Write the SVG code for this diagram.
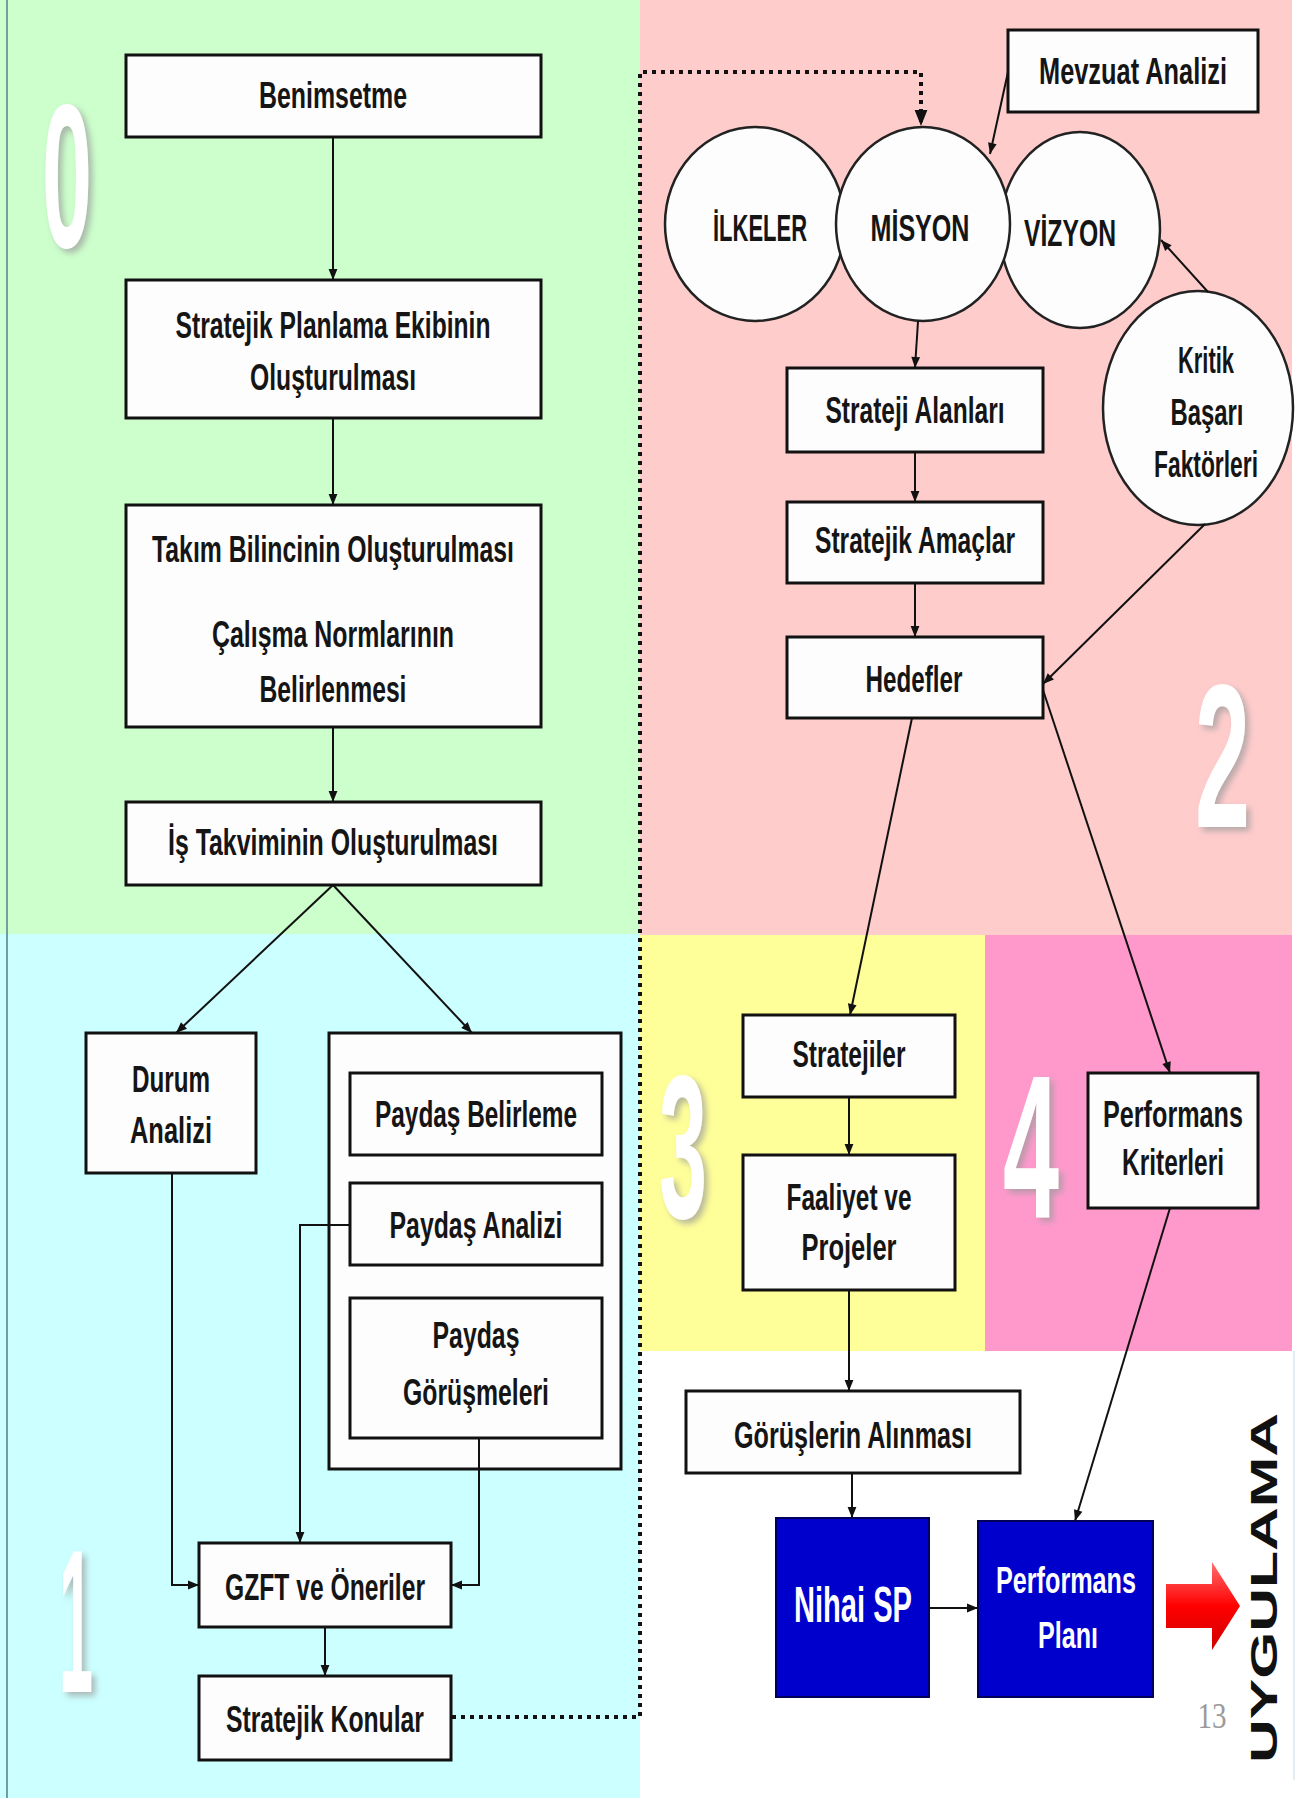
<svg xmlns="http://www.w3.org/2000/svg" width="1306" height="1798" viewBox="0 0 1306 1798">
<defs>
<style>
.box{fill:#fdfdfd;stroke:#111;stroke-width:3}
.circ{fill:#fdfdfd;stroke:#222;stroke-width:2.5}
.blue{fill:#0000cc;stroke:#00005a;stroke-width:2}
.t{font-family:"Liberation Sans Narrow","Liberation Sans",Arial,sans-serif;font-weight:bold;font-size:37px;fill:#151515;text-anchor:middle}
.tw{font-family:"Liberation Sans Narrow","Liberation Sans",Arial,sans-serif;font-weight:bold;fill:#ffffff;text-anchor:middle}
.big{font-family:"Liberation Sans",Arial,sans-serif;font-weight:bold;font-size:205px;fill:#ffffff;filter:url(#shadow)}
.ln{fill:none;stroke:#111;stroke-width:2;marker-end:url(#ah)}
.dot{fill:none;stroke:#111;stroke-width:4;stroke-dasharray:4 5;marker-end:url(#ahb)}
</style>
<filter id="shadow" x="-30%" y="-10%" width="160%" height="130%">
<feDropShadow dx="4" dy="4" stdDeviation="3" flood-color="#9a9a9a" flood-opacity="0.7"/>
</filter>
<marker id="ah" viewBox="0 0 10 10" refX="10" refY="5" markerWidth="12" markerHeight="11" markerUnits="userSpaceOnUse" orient="auto"><path d="M0,1 L10,5 L0,9 z" fill="#111"/></marker>
<marker id="ahb" viewBox="0 0 10 10" refX="10" refY="5" markerWidth="24" markerHeight="16" markerUnits="userSpaceOnUse" orient="auto"><path d="M0,1 L10,5 L0,9 z" fill="#111"/></marker>
<linearGradient id="red" x1="0" y1="0" x2="0" y2="1"><stop offset="0" stop-color="#ff7070"/><stop offset="0.5" stop-color="#ff0000"/><stop offset="1" stop-color="#d00000"/></linearGradient>
</defs>

<g id="background">
<rect x="0" y="0" width="1306" height="1798" fill="#ffffff"/>
<rect x="0" y="0" width="640" height="934" fill="#ccffcc"/>
<rect x="640" y="0" width="652" height="935" fill="#ffcccc"/>
<rect x="0" y="934" width="640" height="864" fill="#ccffff"/>
<rect x="640" y="935" width="345" height="416" fill="#ffff99"/>
<rect x="985" y="935" width="307" height="416" fill="#ff99cc"/>
<line x1="7" y1="0" x2="7" y2="1798" stroke="#6f9f9f" stroke-width="2"/>
<line x1="1294" y1="1351" x2="1294" y2="1780" stroke="#e4eef2" stroke-width="2"/>
</g>

<g id="section-numbers">
<text class="big" x="42" y="247" textLength="50" lengthAdjust="spacingAndGlyphs">0</text>
<text class="big" x="59" y="1692" textLength="34" lengthAdjust="spacingAndGlyphs">1</text>
<text class="big" x="1195" y="827" textLength="55" lengthAdjust="spacingAndGlyphs">2</text>
<text class="big" x="659" y="1218" textLength="48" lengthAdjust="spacingAndGlyphs">3</text>
<text class="big" x="1003" y="1218" textLength="56" lengthAdjust="spacingAndGlyphs">4</text>
</g>

<g id="n-benimsetme"><rect class="box" x="126" y="55" width="415" height="82"/><text class="t" x="333" y="108" textLength="148" lengthAdjust="spacingAndGlyphs">Benimsetme</text></g>
<g id="n-ekip"><rect class="box" x="126" y="280" width="415" height="138"/><text class="t" x="333" y="338" textLength="315" lengthAdjust="spacingAndGlyphs">Stratejik Planlama Ekibinin</text><text class="t" x="333" y="390" textLength="166" lengthAdjust="spacingAndGlyphs">Oluşturulması</text></g>
<g id="n-takim"><rect class="box" x="126" y="505" width="415" height="222"/><text class="t" x="333" y="562" textLength="362" lengthAdjust="spacingAndGlyphs">Takım Bilincinin Oluşturulması</text><text class="t" x="333" y="647" textLength="242" lengthAdjust="spacingAndGlyphs">Çalışma Normlarının</text><text class="t" x="333" y="702" textLength="147" lengthAdjust="spacingAndGlyphs">Belirlenmesi</text></g>
<g id="n-takvim"><rect class="box" x="126" y="802" width="415" height="83"/><text class="t" x="333" y="855" textLength="330" lengthAdjust="spacingAndGlyphs">İş Takviminin Oluşturulması</text></g>
<g id="n-durum"><rect class="box" x="86" y="1033" width="170" height="140"/><text class="t" x="171" y="1092" font-size="35" textLength="78" lengthAdjust="spacingAndGlyphs">Durum</text><text class="t" x="171" y="1143" font-size="35" textLength="82" lengthAdjust="spacingAndGlyphs">Analizi</text></g>
<g id="n-paydas"><rect class="box" x="329" y="1033" width="292" height="436" stroke-width="2.5"/></g>
<g id="n-paydas-belirleme"><rect class="box" x="350" y="1073" width="252" height="82"/><text class="t" x="476" y="1127" textLength="202" lengthAdjust="spacingAndGlyphs">Paydaş Belirleme</text></g>
<g id="n-paydas-analizi"><rect class="box" x="350" y="1183" width="252" height="82"/><text class="t" x="476" y="1238" textLength="173" lengthAdjust="spacingAndGlyphs">Paydaş Analizi</text></g>
<g id="n-paydas-gorusme"><rect class="box" x="350" y="1298" width="252" height="140"/><text class="t" x="476" y="1348" textLength="87" lengthAdjust="spacingAndGlyphs">Paydaş</text><text class="t" x="476" y="1405" textLength="146" lengthAdjust="spacingAndGlyphs">Görüşmeleri</text></g>
<g id="n-gzft"><rect class="box" x="199" y="1543" width="252" height="84"/><text class="t" x="325" y="1600" font-size="35" textLength="200" lengthAdjust="spacingAndGlyphs">GZFT ve Öneriler</text></g>
<g id="n-konular"><rect class="box" x="199" y="1676" width="252" height="84"/><text class="t" x="325" y="1732" font-size="35" textLength="198" lengthAdjust="spacingAndGlyphs">Stratejik Konular</text></g>

<g id="n-mevzuat"><rect class="box" x="1008" y="30" width="250" height="82"/><text class="t" x="1133" y="84" font-size="36" textLength="188" lengthAdjust="spacingAndGlyphs">Mevzuat Analizi</text></g>
<g id="n-ilkeler"><ellipse class="circ" cx="755" cy="224" rx="90" ry="97"/><text class="t" x="760" y="241" font-size="36" textLength="94" lengthAdjust="spacingAndGlyphs">İLKELER</text></g>
<g id="n-vizyon"><ellipse class="circ" cx="1080" cy="230" rx="80" ry="98"/><text class="t" x="1070" y="246" font-size="36" textLength="92" lengthAdjust="spacingAndGlyphs">VİZYON</text></g>
<g id="n-misyon"><ellipse class="circ" cx="923" cy="224" rx="87" ry="97"/><text class="t" x="920" y="241" font-size="36" textLength="99" lengthAdjust="spacingAndGlyphs">MİSYON</text></g>
<g id="n-kritik"><ellipse class="circ" cx="1198" cy="408" rx="95" ry="117"/><text class="t" x="1206" y="373" font-size="33" textLength="56" lengthAdjust="spacingAndGlyphs">Kritik</text><text class="t" x="1207" y="425" font-size="33" textLength="73" lengthAdjust="spacingAndGlyphs">Başarı</text><text class="t" x="1206" y="477" font-size="33" textLength="104" lengthAdjust="spacingAndGlyphs">Faktörleri</text></g>
<g id="n-alanlar"><rect class="box" x="787" y="368" width="256" height="84"/><text class="t" x="915" y="423" textLength="179" lengthAdjust="spacingAndGlyphs">Strateji Alanları</text></g>
<g id="n-amaclar"><rect class="box" x="787" y="502" width="256" height="81"/><text class="t" x="915" y="553" textLength="200" lengthAdjust="spacingAndGlyphs">Stratejik Amaçlar</text></g>
<g id="n-hedefler"><rect class="box" x="787" y="637" width="256" height="81"/><text class="t" x="914" y="692" textLength="97" lengthAdjust="spacingAndGlyphs">Hedefler</text></g>
<g id="n-stratejiler"><rect class="box" x="743" y="1015" width="212" height="82"/><text class="t" x="849" y="1067" textLength="113" lengthAdjust="spacingAndGlyphs">Stratejiler</text></g>
<g id="n-faaliyet"><rect class="box" x="743" y="1155" width="212" height="135"/><text class="t" x="849" y="1210" textLength="125" lengthAdjust="spacingAndGlyphs">Faaliyet ve</text><text class="t" x="849" y="1260" textLength="95" lengthAdjust="spacingAndGlyphs">Projeler</text></g>
<g id="n-perf-kriter"><rect class="box" x="1088" y="1073" width="170" height="135"/><text class="t" x="1173" y="1127" font-size="38" textLength="140" lengthAdjust="spacingAndGlyphs">Performans</text><text class="t" x="1173" y="1175" font-size="38" textLength="102" lengthAdjust="spacingAndGlyphs">Kriterleri</text></g>
<g id="n-gorusler"><rect class="box" x="686" y="1391" width="334" height="82"/><text class="t" x="853" y="1448" font-size="35" textLength="238" lengthAdjust="spacingAndGlyphs">Görüşlerin Alınması</text></g>
<g id="n-nihai"><rect class="blue" x="776" y="1518" width="153" height="179"/><text class="tw" x="853" y="1622" font-size="50" textLength="118" lengthAdjust="spacingAndGlyphs">Nihai SP</text></g>
<g id="n-perf-plan"><rect class="blue" x="978" y="1521" width="175" height="176"/><text class="tw" x="1066" y="1593" font-size="36" textLength="140" lengthAdjust="spacingAndGlyphs">Performans</text><text class="tw" x="1068" y="1648" font-size="36" textLength="60" lengthAdjust="spacingAndGlyphs">Planı</text></g>

<g id="connectors">
<path class="ln" d="M333,137 V280"/>
<path class="ln" d="M333,418 V505"/>
<path class="ln" d="M333,727 V802"/>
<path class="ln" d="M333,885 L176,1033"/>
<path class="ln" d="M333,885 L472,1033"/>
<path class="ln" d="M172,1173 V1585 H199"/>
<path class="ln" d="M350,1225 H300 V1543"/>
<path class="ln" d="M479,1438 V1585 H451"/>
<path class="ln" d="M325,1627 V1676"/>
<path class="dot" d="M452,1717 H640 V72 H921 V126"/>
<path class="ln" d="M1008,72 L990,154"/>
<path class="ln" d="M918,321 L915,368"/>
<path class="ln" d="M915,452 V502"/>
<path class="ln" d="M915,583 V637"/>
<path class="ln" d="M1208,292 L1161,240"/>
<path class="ln" d="M1205,524 L1043,684"/>
<path class="ln" d="M912,718 L850,1015"/>
<path class="ln" d="M1043,690 L1170,1073"/>
<path class="ln" d="M849,1097 V1155"/>
<path class="ln" d="M849,1290 V1391"/>
<path class="ln" d="M852,1473 V1518"/>
<path class="ln" d="M1170,1208 L1075,1521"/>
<path class="ln" d="M929,1608 H978" stroke-width="3"/>
</g>

<g id="uygulama">
<polygon points="1166,1584 1212,1584 1212,1562 1240,1606 1212,1650 1212,1628 1166,1628" fill="url(#red)"/>
<text x="1212" y="1728" font-family="Liberation Serif,Times New Roman,serif" font-size="36" fill="#9a9a9a" text-anchor="middle" textLength="29" lengthAdjust="spacingAndGlyphs">13</text>
<text transform="translate(1277,1588) rotate(-90)" x="0" y="0" font-family="Liberation Sans,Arial,sans-serif" font-weight="bold" font-size="36" fill="#111" text-anchor="middle" textLength="350" lengthAdjust="spacingAndGlyphs">UYGULAMA</text>
</g>
</svg>
